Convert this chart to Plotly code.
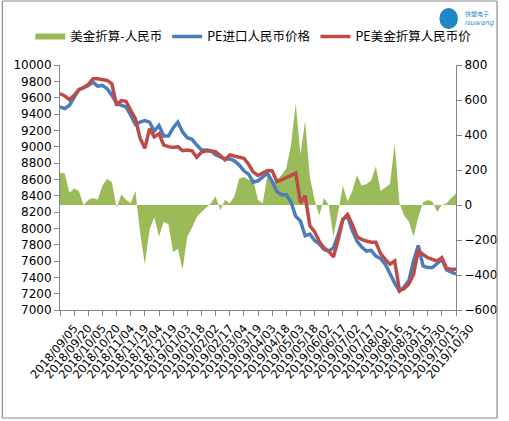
import pandas as pd
import plotly.graph_objects as go

# 5-day samples, 2018/09/05 .. 2019/10/30
dates = pd.date_range("2018-09-05", "2019-10-30", freq="5D")

spread = [185, 180, 70, 95, 80, 0, 30, 40, 30, 110,
          150, 130, -15, 60, 30, 10, 80, -160, -340, -140,
          -70, -180, -95, -110, -270, -250, -370, -180, -130, -70,
          -40, -15, 10, 50, -30, 30, 10, 50, 150, 160,
          145, 140, 28, 10, 171, 124, 143, 171, 210, 343,
          580, 290, 480, 160, 30, -60, 40, 0, -180, -40,
          110, 20, 80, 170, 110, 120, 140, 220, 80, 100,
          120, 350, 10, -60, -95, -180, -70, 15, 28, 20,
          -40, 0, 10, 40, 66]

pe_cny = [9487, 9466, 9507, 9596, 9698, 9722, 9750, 9791, 9740, 9750,
          9710, 9629, 9536, 9507, 9487, 9385, 9272, 9300, 9320, 9300,
          9190, 9260, 9130, 9130, 9230, 9300, 9180, 9110, 9090, 9020,
          8960, 8960, 8950, 8900, 8880, 8850, 8850, 8826, 8777, 8704,
          8663, 8566, 8582, 8635, 8676, 8574, 8452, 8412, 8412, 8322,
          8148, 8090, 7910, 7930, 7850, 7810, 7740, 7722, 7760, 7920,
          8110, 8150, 7975, 7844, 7770, 7722, 7730, 7661, 7630, 7560,
          7440, 7330, 7230, 7280, 7360, 7600, 7790, 7540, 7520, 7520,
          7570, 7620, 7490, 7460, 7440]

pe_usd = [9649, 9621, 9576, 9629, 9698, 9722, 9763, 9832, 9832, 9820,
          9811, 9770, 9507, 9564, 9556, 9446, 9340, 9100, 8980, 9220,
          9120, 9160, 9020, 9000, 8990, 9000, 8950, 8960, 8950, 8870,
          8930, 8950, 8950, 8940, 8890, 8838, 8898, 8882, 8874, 8858,
          8785, 8688, 8647, 8676, 8708, 8704, 8574, 8594, 8623, 8655,
          8676, 8310, 8400, 8030, 7960, 7840, 7760, 7720, 7650, 7860,
          8110, 8168, 8047, 7900, 7864, 7844, 7830, 7830, 7690, 7620,
          7560, 7600, 7240, 7260, 7320, 7440, 7730, 7680, 7640, 7620,
          7600, 7640, 7510, 7500, 7500]

cjk = "Noto Sans CJK SC, sans-serif"
num = "DejaVu Sans, sans-serif"
axis_col = "#868686"

fig = go.Figure()
fig.add_trace(go.Scatter(x=dates, y=spread, name="美金折算-人民币", mode="none",
                         fill="tozeroy", fillcolor="#9BBB59", yaxis="y"))
fig.add_trace(go.Scatter(x=dates, y=pe_cny, name="PE进口人民币价格", mode="lines",
                         line=dict(color="#4A7EBB", width=3.5), yaxis="y2"))
fig.add_trace(go.Scatter(x=dates, y=pe_usd, name="PE美金折算人民币价", mode="lines",
                         line=dict(color="#BE4B48", width=3.5), yaxis="y2"))

tick_common = dict(showgrid=False, showline=True, linecolor=axis_col, linewidth=1,
                   ticks="outside", ticklen=5, tickcolor=axis_col, zeroline=False,
                   tickfont=dict(family=num, size=12, color="#000000"))

fig.update_layout(
    width=509, height=421,
    margin=dict(l=60, r=44, t=65, b=111),
    paper_bgcolor="white", plot_bgcolor="white",
    font=dict(family=cjk, size=12, color="#000000"),
    showlegend=True,
    legend=dict(orientation="h", x=-0.075, xanchor="left", y=1.115, yanchor="middle",
                font=dict(family=cjk, size=12.5), itemwidth=30, tracegroupgap=0,
                bgcolor="rgba(0,0,0,0)"),
    xaxis=dict(range=["2018-09-05", "2019-10-30"], tickmode="linear",
               tick0="2018-09-05", dtick=15 * 86400000, tickformat="%Y/%m/%d",
               tickangle=-50, ticklabelshift=14, ticklabelstandoff=1, **tick_common),
    yaxis=dict(range=[-600, 800], dtick=200, side="right", tickformat="d",
               **tick_common),
    yaxis2=dict(range=[7000, 10000], dtick=200, side="left", overlaying="y",
                tickformat="d", **tick_common),
)
fig.update_xaxes(tickfont=dict(family=num, size=11.5, color="#000000"))

# outer border of the chart (pixel positions mapped to paper units)
def px(x):
    return (x - 60) / 405


def py(y):
    return (310 - y) / 245


for x0, y0, x1, y1 in [(1, 1, 507, 1), (1, 418, 507, 418), (1, 1, 1, 418), (507, 1, 507, 418)]:
    fig.add_shape(type="line", xref="paper", yref="paper", x0=px(x0), y0=py(y0),
                  x1=px(x1), y1=py(y1), line=dict(color="#8c8c8c", width=1.2))

# logo in top right corner
fig.add_shape(type="circle", xref="paper", yref="paper",
              x0=px(448), x1=px(467), y0=py(29), y1=py(8),
              fillcolor="#1E88C8", line=dict(width=0))
fig.add_annotation(text="快塑电子", xref="paper", yref="paper", x=px(472), y=py(14),
                   xanchor="left", yanchor="middle", showarrow=False,
                   font=dict(family=cjk, size=6, color="#2C8FD0"))
fig.add_annotation(text="<i>isuwang</i>", xref="paper", yref="paper", x=px(472),
                   y=py(23), xanchor="left", yanchor="middle", showarrow=False,
                   font=dict(family=num, size=7, color="#2C8FD0"))

# drop the default page margin so the figure sits at the window's top-left corner
fig.write_html("out.html", config={"displayModeBar": False},
               post_script="document.body.style.margin='0';")
